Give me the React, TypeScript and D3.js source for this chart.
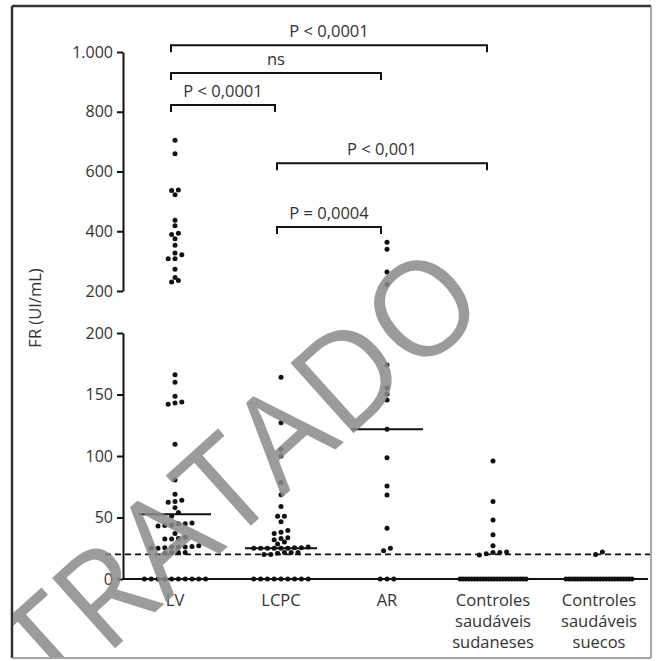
import React, { useRef, useEffect } from "react";
import * as d3 from "d3";

// groups on the x axis
const categories = ["LV", "LCPC", "AR", "Sudaneses", "Suecos"];
const categoryLines = [
  ["LV"],
  ["LCPC"],
  ["AR"],
  ["Controles", "saudáveis", "sudaneses"],
  ["Controles", "saudáveis", "suecos"],
];

// FR values (UI/mL)
const lvValues = [
  705, 659, 538, 536, 522, 437, 418, 393, 389, 375, 353, 327, 321, 308, 308, 273, 245, 235, 230,
  166, 160, 148.5, 144, 143, 142, 109.5, 80.5, 69, 64, 63, 62.5, 58, 54, 51,
  45.5, 45, 45, 44, 43.5, 43, 37, 34, 33, 32.5, 32.5,
  27, 26.5, 26, 26, 26, 25.5, 25, 25, 21.5, 21.5, 21.5, 21,
  0, 0, 0, 0, 0, 0, 0, 0, 0, 0,
];
const lcpcValues = [
  164, 127, 105.5, 100, 78.5, 68.5, 59, 51, 51, 46.5, 39.5, 38, 37, 33.5, 33, 32, 30, 28.5,
  26, 25.5, 25.5, 25, 25, 25, 25, 25, 25, 21.5, 21.5, 21.5, 21, 20, 20,
  0, 0, 0, 0, 0, 0, 0, 0, 0,
];
const arValues = [363, 339.5, 264, 222.5, 174, 155.5, 150.5, 145.5, 121.7, 98.6, 75.6, 68.3, 41.2, 25, 23, 0, 0, 0];
const sudValues = [
  96, 63, 48, 36, 27, 22, 21.5, 21.5, 20.5, 19.5,
  0, 0, 0, 0, 0, 0, 0, 0, 0, 0, 0, 0, 0, 0, 0, 0, 0, 0, 0, 0, 0, 0, 0, 0,
];
const sueValues = [
  22, 20,
  0, 0, 0, 0, 0, 0, 0, 0, 0, 0, 0, 0, 0, 0, 0, 0, 0, 0, 0, 0, 0, 0, 0, 0,
];
const seriesValues = [lvValues, lcpcValues, arValues, sudValues, sueValues];
const medians = [52.6, 25, 121.7, 0, 0];

const cutoff = 20;
const upperTicks = [200, 400, 600, 800, 1000];
const lowerTicks = [0, 50, 100, 150, 200];

// significance brackets, level given in upper-axis units
const comparisons = [
  { from: "LV", to: "Sudaneses", label: "P < 0,0001", level: 1023 },
  { from: "LV", to: "AR", label: "ns", level: 930 },
  { from: "LV", to: "LCPC", label: "P < 0,0001", level: 823 },
  { from: "LCPC", to: "Sudaneses", label: "P < 0,001", level: 628 },
  { from: "LCPC", to: "AR", label: "P = 0,0004", level: 414 },
];

const FONT = "'Open Sans', 'DejaVu Sans', sans-serif";

// GraphPad-like spreading: points that sit in the same row are laid side by side
function rowOffsets(ys: number[], gap: number, maxHalf: number, tol: number): number[] {
  const order = d3.range(ys.length).sort((a, b) => ys[b] - ys[a]);
  const out = new Array(ys.length).fill(0);
  let i = 0;
  while (i < order.length) {
    const start = ys[order[i]];
    let j = i;
    while (j < order.length && start - ys[order[j]] < tol) j++;
    const row = order.slice(i, j);
    const n = row.length;
    const step = n > 1 ? Math.min(gap, (2 * maxHalf) / (n - 1)) : 0;
    row.forEach((idx, k) => {
      out[idx] = (k - (n - 1) / 2) * step;
    });
    i = j;
  }
  return out;
}

function ScatterChart() {
  const svgRef = useRef<SVGSVGElement>(null);

  useEffect(() => {
    const svg = d3.select(svgRef.current);
    svg.selectAll("*").remove();

    const width = 664;
    const height = 661;
    svg.attr("width", width).attr("height", height);

    const axisX = 123;
    const x = d3.scalePoint<string>().domain(categories).range([175, 599]);
    const yUpper = d3.scaleLinear().domain([200, 1000]).range([291, 52]);
    const yLower = d3.scaleLinear().domain([0, 200]).range([579, 333]);
    const yOf = (v: number) => (v > 200 ? yUpper(v) : yLower(v));

    const loc = d3.formatLocale({ decimal: ",", thousands: ".", grouping: [3], currency: ["R$", ""] });
    const fmt = loc.format(",");

    // frame
    svg.append("line").attr("x1", 12).attr("x2", 651).attr("y1", 6).attr("y2", 6)
      .attr("stroke", "#333").attr("stroke-width", 2.5);
    svg.append("line").attr("x1", 12).attr("x2", 12).attr("y1", 6).attr("y2", 658)
      .attr("stroke", "#333").attr("stroke-width", 2.5);
    svg.append("line").attr("x1", 651).attr("x2", 651).attr("y1", 6).attr("y2", 658)
      .attr("stroke", "#8a8a8a").attr("stroke-width", 1.5);
    svg.append("line").attr("x1", 12).attr("x2", 651).attr("y1", 658).attr("y2", 658)
      .attr("stroke", "#8a8a8a").attr("stroke-width", 1.5);

    // y axes (broken)
    const styleAxis = (g: d3.Selection<SVGGElement, unknown, null, undefined>) => {
      g.select(".domain").attr("stroke", "#111").attr("stroke-width", 2);
      g.selectAll(".tick line").attr("stroke", "#111").attr("stroke-width", 2);
      g.selectAll(".tick text").attr("fill", "#333").attr("font-size", 16).attr("font-family", FONT);
    };
    svg.append("g").attr("transform", `translate(${axisX},0)`)
      .call(d3.axisLeft(yUpper).tickValues(upperTicks).tickFormat((d) => fmt(d as number)).tickSize(6).tickSizeOuter(0).tickPadding(4))
      .call(styleAxis);
    svg.append("g").attr("transform", `translate(${axisX},0)`)
      .call(d3.axisLeft(yLower).tickValues(lowerTicks).tickFormat((d) => fmt(d as number)).tickSize(6).tickSizeOuter(0).tickPadding(4))
      .call(styleAxis);

    svg.append("text")
      .attr("transform", `translate(37,${(yUpper(200) + yLower(200)) / 2 - 4}) rotate(-90)`)
      .attr("text-anchor", "middle").attr("dominant-baseline", "middle")
      .attr("font-family", FONT).attr("font-size", 16.5).attr("fill", "#333")
      .text("FR (UI/mL)");

    // x axis line
    svg.append("line").attr("x1", axisX).attr("x2", 648).attr("y1", yLower(0)).attr("y2", yLower(0))
      .attr("stroke", "#111").attr("stroke-width", 2);

    // cut-off line
    svg.append("line").attr("x1", 105).attr("x2", 650).attr("y1", yLower(cutoff)).attr("y2", yLower(cutoff))
      .attr("stroke", "#111").attr("stroke-width", 1.6).attr("stroke-dasharray", "6,4");

    // category labels
    categories.forEach((c, i) => {
      const t = svg.append("text").attr("x", x(c)!).attr("y", 606).attr("text-anchor", "middle")
        .attr("font-family", FONT).attr("font-size", 16.5).attr("fill", "#333");
      categoryLines[i].forEach((line, k) => {
        t.append("tspan").attr("x", x(c)!).attr("dy", k === 0 ? 0 : 21).text(line);
      });
    });

    // medians
    svg.selectAll(".median").data(medians).join("line")
      .attr("x1", (d, i) => x(categories[i])! - 36)
      .attr("x2", (d, i) => x(categories[i])! + 36)
      .attr("y1", (d) => yOf(d)).attr("y2", (d) => yOf(d))
      .attr("stroke", "#111").attr("stroke-width", 2);

    // dots
    seriesValues.forEach((vals, i) => {
      const ys = vals.map(yOf);
      const offs = rowOffsets(ys, 6.8, 33, 4);
      svg.append("g").selectAll("circle").data(vals).join("circle")
        .attr("cx", (d, k) => x(categories[i])! + offs[k])
        .attr("cy", (d, k) => ys[k])
        .attr("r", 2.5).attr("fill", "#111");
    });

    // significance brackets
    comparisons.forEach((c) => {
      const x1 = x(c.from)! - 4;
      const x2 = x(c.to)! - 6;
      const y = yUpper(c.level);
      svg.append("path").attr("d", `M${x1},${y + 7}V${y}H${x2}V${y + 7}`)
        .attr("fill", "none").attr("stroke", "#111").attr("stroke-width", 2);
      svg.append("text").attr("x", (x1 + x2) / 2).attr("y", y - 8).attr("text-anchor", "middle")
        .attr("font-family", FONT).attr("font-size", 16.5).attr("fill", "#333").text(c.label);
    });

    // watermark over the whole plot, cut by the frame
    svg.append("clipPath").attr("id", "frame-clip").append("rect")
      .attr("x", 13).attr("y", 7).attr("width", 637).attr("height", 650);
    svg.append("g").attr("clip-path", "url(#frame-clip)").attr("opacity", 0.85)
      .append("text")
      .attr("transform", "translate(214,559) rotate(-42)")
      .attr("text-anchor", "middle")
      .attr("font-family", FONT).attr("font-weight", 500).attr("font-size", 132)
      .attr("fill", "#8a8a8a")
      .text("RETRATADO");
  }, []);

  return <svg ref={svgRef} style={{ position: "absolute", left: 0, top: 0 }}></svg>;
}

export default function App() {
  return (
    <div>
      <ScatterChart />
    </div>
  );
}
